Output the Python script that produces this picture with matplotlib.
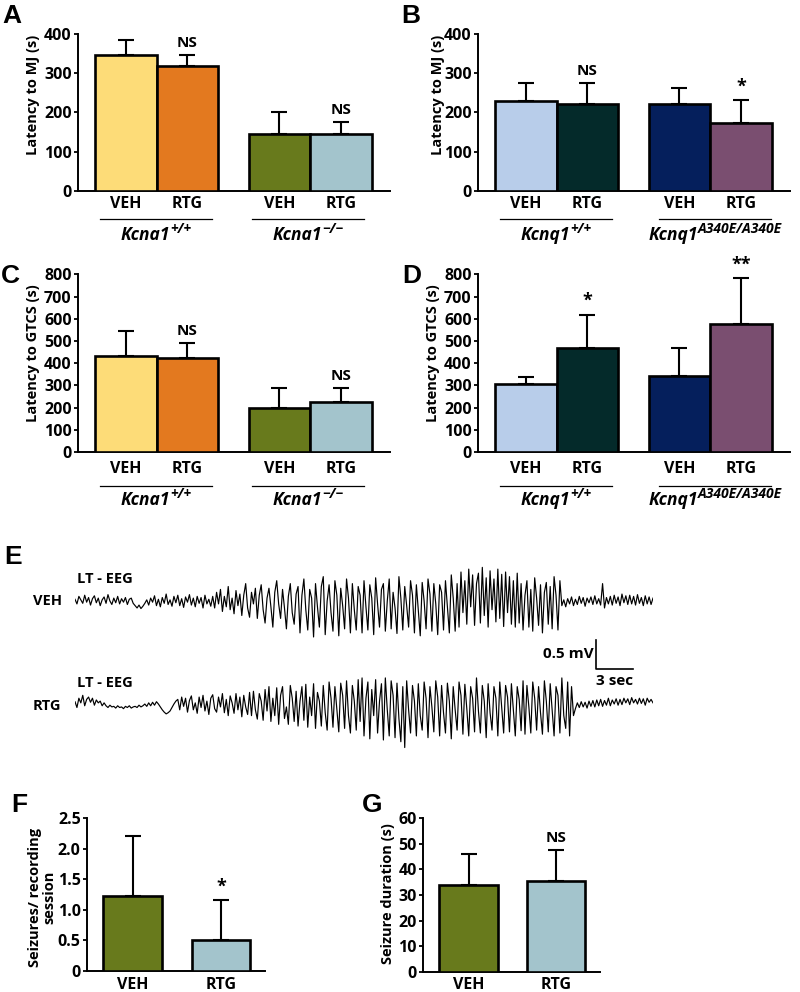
import numpy as np
import matplotlib.pyplot as plt
from matplotlib import transforms
from matplotlib.lines import Line2D

plt.rcParams['font.family'] = ['Open Sans', 'DejaVu Sans']
plt.rcParams['font.weight'] = 'bold'

# ---- data ----
groups = ['VEH', 'RTG', 'VEH', 'RTG']
mj_kcna1 = [346, 319, 145, 145]
mj_kcna1_err = [39, 27, 57, 31]
mj_kcnq1 = [229, 221, 221, 174]
mj_kcnq1_err = [45, 53, 40, 57]
gtcs_kcna1 = [432, 422, 200, 225]
gtcs_kcna1_err = [113, 68, 87, 62]
gtcs_kcnq1 = [308, 467, 344, 575]
gtcs_kcnq1_err = [31, 150, 126, 207]
seizure_groups = ['VEH', 'RTG']
seizures = [1.23, 0.50]
seizures_err = [0.98, 0.66]
duration = [33.9, 35.6]
duration_err = [12.1, 12.0]

kcna1_labels = [('Kcna1', '+/+'), ('Kcna1', '\u2212/\u2212')]
kcnq1_labels = [('Kcnq1', '+/+'), ('Kcnq1', 'A340E/A340E')]

kcna1_colors = ['#FDDC78', '#E3791F', '#687A1C', '#A3C4CC']
kcnq1_colors = ['#B8CDEA', '#042A2A', '#051F5C', '#7A4E70']
fg_colors = ['#687A1C', '#A3C4CC']

# EEG traces (mV), deflections from left to right
veh_eeg = [0.03, -0.05, 0.08, 0.02, -0.04, 0.1, -0.02, 0.06, -0.07, 0.04,
           0.09, -0.03, 0.05, -0.08, 0.02, 0.07, -0.04, 0.11, 0.0, -0.06,
           0.05, -0.03, 0.08, -0.05, 0.04, -0.02, 0.06, -0.06, 0.03, 0.05, -0.04,
           -0.08, -0.12, -0.07, -0.13, -0.09, -0.04,
           0.02, -0.07, 0.05, -0.02, 0.09, -0.08, 0.03, -0.1, 0.06, -0.04,
           0.12, -0.06, 0.02, -0.09, 0.08, -0.03, 0.1, -0.08, 0.04, -0.11,
           0.07, -0.02, 0.11, -0.07, 0.05, -0.1, 0.08, -0.04, 0.06, -0.12,
           0.1, -0.05, 0.03, -0.09, 0.08,
           -0.12, 0.15, -0.05, 0.2, -0.18, 0.08, -0.1, 0.25, -0.15, 0.05,
           -0.22, 0.18, -0.08, 0.12, -0.25, 0.1, 0.3, -0.12, -0.28, 0.15,
           -0.05, 0.22, -0.3,
           0.1, 0.28, -0.15, -0.38, 0.05, 0.22, -0.1, -0.45, 0.15, 0.35,
           -0.05, -0.3, 0.2, -0.12, -0.48, 0.08, 0.3, -0.2, -0.4, 0.12, 0.25,
           -0.55, 0.1, 0.38, -0.15, -0.5, 0.2, 0.05, -0.62, 0.3, -0.1,
           -0.45, 0.25, 0.42, -0.58, 0.0, 0.28, -0.2, -0.52, 0.35, 0.1,
           -0.6, 0.22, -0.08, -0.48, 0.38, 0.05, -0.55, 0.3, -0.15, -0.5, 0.25,
           0.1, -0.55, 0.35, -0.1, -0.5, 0.28, 0.05, -0.58, 0.4, -0.05,
           -0.45, 0.2, 0.3, -0.52, 0.0, 0.38, -0.48, 0.15, -0.12, -0.56,
           0.42, 0.05, -0.5, 0.25, -0.08, -0.45, 0.35, 0.1, -0.55, 0.28,
           -0.15, -0.6, 0.32, 0.0, -0.48, 0.38, 0.12, -0.52, 0.3, -0.05,
           -0.58, 0.28, 0.15, -0.5, 0.35, -0.1, -0.55, 0.45, 0.05, -0.52,
           0.3, -0.45,
           0.5, -0.2, 0.35, -0.4, 0.55, -0.1, 0.45, -0.42, 0.3, 0.48,
           -0.38, 0.58, -0.25, 0.4, -0.45, 0.52, -0.15, 0.38, -0.36, 0.55,
           -0.3, 0.46, -0.44, 0.5, -0.2, 0.42, -0.4, 0.35, -0.45, 0.48, -0.38,
           0.3, -0.5, 0.1, 0.35, -0.45, 0.2, -0.52, 0.4, 0.05, -0.42,
           0.28, -0.55, 0.15, 0.32, -0.4, 0.25, -0.48, 0.42, 0.1, -0.5, 0.35,
           -0.08, 0.02, -0.1, 0.04, -0.05, 0.07, -0.08, 0.03, -0.06, 0.08,
           -0.04, 0.06, -0.09, 0.05, -0.03, 0.07, -0.06, 0.09, -0.05, 0.04,
           -0.07, 0.3, -0.12, 0.06, -0.05, 0.08, -0.07, 0.1, -0.04, 0.07,
           -0.08, 0.12, -0.03, 0.09, -0.06, 0.1, -0.05, 0.08, -0.07, 0.11,
           -0.04, 0.06, -0.08, 0.09, -0.05, 0.07, -0.06, 0.05]
rtg_eeg = [0.04, -0.06, 0.1, 0.02, 0.15, -0.03, 0.08, 0.12, 0.03, 0.1,
           -0.02, 0.07, 0.02, 0.05, -0.03, 0.02,
           -0.03, -0.06, -0.02, -0.05, -0.04, -0.07, -0.03, -0.06, -0.05, -0.08,
           -0.04, -0.06, -0.03, -0.07, -0.05, -0.04, -0.06, -0.02, -0.05, -0.03,
           0.0, -0.04, 0.02, -0.03, 0.03, -0.02, 0.04, 0.0,
           -0.05, -0.1, -0.14, -0.17, -0.15, -0.12, -0.06, 0.0, 0.05,
           0.08, -0.1, 0.12, -0.04, 0.1, -0.14, 0.06, 0.14, -0.1, 0.02,
           -0.16, 0.12, -0.06, 0.15, -0.12, 0.05, -0.18, 0.1, 0.16, -0.08,
           -0.14, 0.12, -0.05, 0.18, -0.15, 0.08, -0.2, 0.14, 0.02, -0.16,
           0.18, -0.1, 0.12, -0.22, 0.15, -0.05, -0.18, 0.2,
           -0.2, 0.22, -0.1, -0.26, 0.18, 0.05, -0.28, 0.25, -0.12, 0.3,
           -0.3, 0.1, -0.2, 0.28, -0.35, 0.15, 0.3, -0.25, -0.05, -0.35,
           0.32, 0.1, -0.3, 0.22, -0.38, 0.05, 0.3, -0.28, 0.34, -0.4,
           0.12, -0.2, 0.35, -0.42, 0.2, 0.05, -0.38, 0.32, -0.15, -0.45,
           0.38, 0.1, -0.4, 0.3, -0.1, -0.48, 0.36, 0.15, -0.42, 0.4,
           -0.2, -0.5, 0.32, 0.05, -0.45, 0.42, -0.3,
           0.45, -0.55, 0.1, 0.38, -0.6, 0.25, -0.2, 0.42, -0.5, 0.05,
           0.35, -0.62, 0.45, -0.1, -0.55, 0.4, 0.15, -0.58, 0.36, -0.25,
           -0.65, 0.3, -0.75,
           0.4, -0.1, -0.5, 0.32, 0.05, -0.55, 0.35, -0.2, -0.45, 0.38,
           0.1, -0.58, 0.3, -0.05, -0.48, 0.4, 0.12, -0.55, 0.32, -0.15,
           -0.5, 0.36, 0.05, -0.6, 0.3, -0.1, -0.45, 0.38, 0.15, -0.52,
           0.34, -0.08, -0.55, 0.3, 0.1, -0.48, 0.45, -0.12, -0.5, 0.32,
           0.05, -0.58, 0.35, -0.15, -0.45, 0.3, 0.1, -0.55, 0.38, -0.05,
           -0.5, 0.32, 0.12, -0.48, 0.35, -0.1, -0.55, 0.3, 0.08, -0.46,
           0.4, -0.52,
           0.32, -0.05, -0.5, 0.38, 0.1, -0.45, 0.3, -0.15, -0.52, 0.4,
           0.05, -0.48, 0.35, -0.1, -0.55, 0.3, 0.15, -0.5, 0.45, -0.2,
           -0.42, 0.38, -0.55, 0.3,
           -0.2, -0.08, 0.02, -0.06, 0.04, -0.05, 0.03, -0.07, 0.05, -0.04,
           0.06, -0.05, 0.07, -0.03, 0.08, -0.04, 0.06, -0.02, 0.1, -0.03,
           0.07, 0.0, 0.09, -0.02, 0.08, -0.01, 0.1, 0.02, 0.09, -0.01,
           0.11, 0.02, 0.08, 0.0, 0.1, 0.01, 0.09, -0.02, 0.1, 0.03,
           0.08, 0.02]

W, H = 800, 992
fig = plt.figure(figsize=(W / 100, H / 100), dpi=100)
renderer = fig.canvas.get_renderer()


def rect(x0, y0, x1, y1):
    return [x0 / W, 1 - y1 / H, (x1 - x0) / W, (y1 - y0) / H]


def ftext(x, y, s, **kw):
    return fig.text(x / W, 1 - y / H, s, **kw)


def hline(x0, x1, y):
    fig.add_artist(Line2D([x0 / W, x1 / W], [1 - y / H, 1 - y / H],
                          color='black', lw=0.9))


def genotype(xc, y_base, base, sup, size=12.5):
    # italic gene name with a raised, smaller allele superscript, centred on xc
    t1 = ftext(0, y_base, base, fontsize=size, style='italic', va='baseline')
    t2 = ftext(0, y_base - size * 0.55, sup, fontsize=size * 0.8,
               style='italic', va='baseline')
    w1 = t1.get_window_extent(renderer).width
    w2 = t2.get_window_extent(renderer).width
    x0 = xc - (w1 + w2) / 2
    t1.set_x(x0 / W)
    t2.set_x((x0 + w1 + 0.5) / W)


def bar_panel(box, pos, means, errs, colors, ticks, ticklabels, xlim,
              names, name_y, marks):
    ax = fig.add_axes(rect(*box))
    ax.bar(pos, means, width=1.0, color=colors, edgecolor='black',
           linewidth=1.9, zorder=3)
    ax.errorbar(pos, means, yerr=[np.zeros(len(means)), errs], fmt='none',
                ecolor='black', elinewidth=1.5, capsize=5.5, capthick=1.5,
                zorder=2)
    ax.set_xlim(*xlim)
    ax.set_ylim(ticks[0], ticks[-1])
    ax.set_yticks(ticks)
    ax.set_yticklabels(ticklabels)
    ax.set_xticks([])
    ax.tick_params(axis='y', labelsize=11.5, length=3, width=1.3, pad=1.5)
    for s in ['top', 'right']:
        ax.spines[s].set_visible(False)
    for s in ['left', 'bottom']:
        ax.spines[s].set_linewidth(1.4)
    trans = transforms.blended_transform_factory(ax.transData, fig.transFigure)
    for p, n in zip(pos, names):
        ax.text(p, 1 - name_y / H, n, transform=trans, ha='center',
                va='center', fontsize=11.5)
    for i, m in marks:
        ax.annotate(m, (pos[i], means[i] + errs[i]), xytext=(0, 3.5),
                    textcoords='offset points', ha='center', va='bottom',
                    fontsize=11 if m == 'NS' else 13, annotation_clip=False)
    return ax


pos4 = [0, 1, 2.5, 3.5]
xlim4 = (-0.78, 4.3)
pos2 = [0, 1.5]
xlim2 = (-0.78, 2.25)
t400 = [0, 100, 200, 300, 400]
t800 = [0, 100, 200, 300, 400, 500, 600, 700, 800]

# A
bar_panel((78, 34, 390, 190.7), pos4, mj_kcna1, mj_kcna1_err, kcna1_colors,
          t400, [str(t) for t in t400], xlim4, groups, 203.5,
          [(1, 'NS'), (3, 'NS')])
ftext(33, 95, 'Latency to MJ (s)', rotation=90, ha='center', va='center', fontsize=10.5)
hline(100, 212, 219.3)
hline(252, 364, 219.3)
genotype(156, 240, *kcna1_labels[0])
genotype(308, 240, *kcna1_labels[1])

# B
bar_panel((478, 34, 790, 190.7), pos4, mj_kcnq1, mj_kcnq1_err, kcnq1_colors,
          t400, [str(t) for t in t400], xlim4, groups, 203.5,
          [(1, 'NS'), (3, '*')])
ftext(438, 95, 'Latency to MJ (s)', rotation=90, ha='center', va='center', fontsize=10.5)
hline(500, 612, 219.3)
hline(659, 771, 219.3)
genotype(556, 240, *kcnq1_labels[0])
genotype(715, 240, *kcnq1_labels[1])

# C
bar_panel((78, 274.3, 390, 452), pos4, gtcs_kcna1, gtcs_kcna1_err, kcna1_colors,
          t800, [str(t) for t in t800], xlim4, groups, 469,
          [(1, 'NS'), (3, 'NS')])
ftext(33, 353, 'Latency to GTCS (s)', rotation=90, ha='center', va='center', fontsize=10.5)
hline(100, 212, 485.7)
hline(252, 364, 485.7)
genotype(156, 505, *kcna1_labels[0])
genotype(308, 505, *kcna1_labels[1])

# D
bar_panel((478, 274.3, 790, 452), pos4, gtcs_kcnq1, gtcs_kcnq1_err, kcnq1_colors,
          t800, [str(t) for t in t800], xlim4, groups, 469,
          [(1, '*'), (3, '**')])
ftext(433, 353, 'Latency to GTCS (s)', rotation=90, ha='center', va='center', fontsize=10.5)
hline(500, 612, 485.7)
hline(659, 771, 485.7)
genotype(556, 505, *kcnq1_labels[0])
genotype(715, 505, *kcnq1_labels[1])

# E: EEG traces with scale bar (0.5 mV, 3 s)
ax_e = fig.add_axes(rect(75, 560, 653, 760))
t_span = 46.9
rtg_offset = -1.776
ax_e.plot(np.linspace(0, t_span, len(veh_eeg)), veh_eeg, color='black', lw=0.85)
ax_e.plot(np.linspace(0, t_span, len(rtg_eeg)), np.array(rtg_eeg) + rtg_offset,
          color='black', lw=0.85)
bar_t0, bar_v0 = 42.3, -1.172
ax_e.plot([bar_t0, bar_t0, bar_t0 + 3], [bar_v0 + 0.5, bar_v0, bar_v0],
          color='black', lw=1.2)
ax_e.text(bar_t0 - 0.25, bar_v0 + 0.26, '0.5 mV', ha='right', va='center', fontsize=11)
ax_e.text(bar_t0 + 1.5, bar_v0 - 0.08, '3 sec', ha='center', va='top', fontsize=11)
ax_e.set_xlim(0, t_span)
ax_e.set_ylim(-2.741, 0.707)
ax_e.axis('off')
ftext(77, 579, 'LT - EEG', ha='left', va='center', fontsize=10.5)
ftext(77, 683, 'LT - EEG', ha='left', va='center', fontsize=10.5)
ftext(33, 601, 'VEH', ha='left', va='center', fontsize=10.5)
ftext(33, 706, 'RTG', ha='left', va='center', fontsize=10.5)

# F
bar_panel((87, 818.3, 265, 971), pos2, seizures, seizures_err, fg_colors,
          [0, 0.5, 1.0, 1.5, 2.0, 2.5], ['0', '0.5', '1.0', '1.5', '2.0', '2.5'],
          xlim2, seizure_groups, 985, [(1, '*')])
ftext(42, 897, 'Seizures/ recording\nsession', rotation=90, ha='center',
      va='center', multialignment='center', fontsize=10.5, linespacing=1.0)

# G
bar_panel((423, 818.3, 600, 971.7), pos2, duration, duration_err, fg_colors,
          [0, 10, 20, 30, 40, 50, 60], ['0', '10', '20', '30', '40', '50', '60'],
          xlim2, seizure_groups, 985, [(1, 'NS')])
ftext(388, 894, 'Seizure duration (s)', rotation=90, ha='center', va='center', fontsize=10.5)

# panel letters
for letter, x, y in [('A', 12, 16), ('B', 411, 16), ('C', 10, 276), ('D', 412, 276),
                     ('E', 13, 557), ('F', 19, 805), ('G', 372, 805)]:
    ftext(x, y, letter, ha='center', va='center', fontsize=19,
          family=['Liberation Sans', 'DejaVu Sans'])

fig.savefig('out.png', dpi=100, facecolor='white')
